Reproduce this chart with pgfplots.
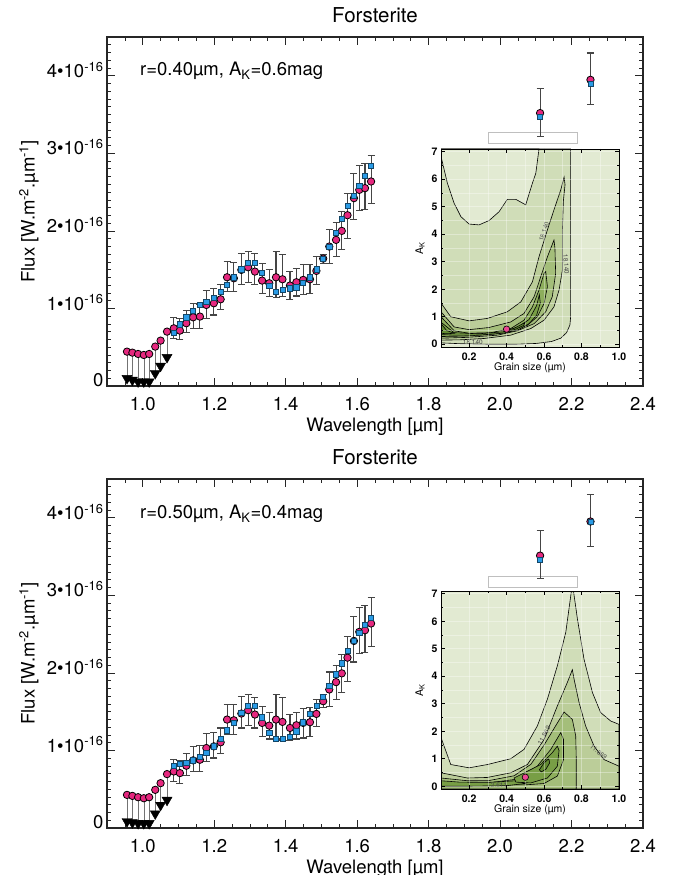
\documentclass[border=0pt]{standalone}
\usepackage{fontspec}
\setmainfont{TeX Gyre Heros}
\usepackage{pgfplots}
\usepackage{pgfplotstable}
\pgfplotsset{compat=1.18}

\definecolor{mag}{HTML}{E6287F}
\definecolor{sky}{HTML}{2A9BE6}
\definecolor{ebar}{HTML}{454545}
\definecolor{g0}{HTML}{E2EAD2}
\definecolor{g1}{HTML}{D0DDB8}
\definecolor{g2}{HTML}{BBCD99}
\definecolor{g3}{HTML}{A4BE7A}
\definecolor{g4}{HTML}{8DAE5C}
\definecolor{g5}{HTML}{789E45}
\definecolor{g6}{HTML}{628B32}

\newcommand\bigf{\fontsize{18.5}{21}\selectfont}
\newcommand\smf{\fontsize{10.5}{12}\selectfont}
\tikzset{clabel/.style={font=\fontsize{6.5}{7}\selectfont, text=black!70, inner sep=0.5pt}}

% spectrum, r=0.40um fit: lambda, magenta, blue, bar top, bar bottom
\pgfplotstableread{
l     m     b     t     lo
1.087 0.744 0.688 0.886 0.615
1.104 0.714 0.796 0.873 0.594
1.122 0.809 0.886 0.972 0.688
1.141 0.886 0.972 1.058 0.744
1.160 0.895 1.045 1.054 0.744
1.178 1.045 1.088 1.230 0.873
1.199 1.067 1.140 1.252 0.916
1.218 1.118 1.217 1.303 0.981
1.236 1.402 1.303 1.604 1.217
1.255 1.389 1.402 1.596 1.217
1.276 1.497 1.505 1.712 1.303
1.295 1.531 1.591 1.733 1.333
1.314 1.475 1.591 1.703 1.303
1.334 1.359 1.462 1.583 1.196
1.354 1.325 1.290 1.497 1.153
1.373 1.402 1.217 1.733 1.140
1.391 1.376 1.239 1.690 1.153
1.412 1.295 1.260 1.475 1.118
1.430 1.338 1.273 1.510 1.161
1.449 1.368 1.333 1.561 1.174
1.468 1.376 1.402 1.561 1.196
1.486 1.484 1.505 1.669 1.303
1.505 1.643 1.643 1.700 1.580
1.522 1.798 1.798 2.013 1.583
1.541 1.884 1.978 2.108 1.669
1.557 2.000 2.159 2.249 1.763
1.573 2.202 2.323 2.477 1.905
1.591 2.422 2.456 2.735 2.142
1.606 2.529 2.581 2.839 2.258
1.622 2.551 2.710 2.873 2.271
1.639 2.637 2.839 2.968 2.348
2.112 3.519 3.467 3.836 3.213
2.253 3.948 3.897 4.293 3.635
}\specA
\pgfplotstableread{
l     m     tri
0.956 0.443 0.099
0.971 0.430 0.077
0.987 0.413 0.056
1.003 0.400 0.056
1.018 0.413 0.056
1.035 0.508 0.163
1.050 0.585 0.258
1.068 0.701 0.370
}\lowA

% spectrum, r=0.50um fit
\pgfplotstableread{
l     m     b     t     lo
1.087 0.729 0.807 0.880 0.600
1.104 0.708 0.828 0.867 0.578
1.122 0.803 0.837 0.958 0.673
1.141 0.872 0.872 1.053 0.729
1.160 0.880 0.923 1.061 0.729
1.178 1.031 0.967 1.217 0.859
1.199 1.053 1.053 1.234 0.902
1.218 1.105 1.148 1.290 0.958
1.236 1.398 1.260 1.592 1.204
1.255 1.389 1.355 1.588 1.204
1.276 1.476 1.484 1.692 1.290
1.295 1.519 1.579 1.722 1.320
1.314 1.463 1.579 1.679 1.290
1.334 1.355 1.428 1.562 1.182
1.354 1.320 1.225 1.484 1.148
1.373 1.398 1.148 1.717 1.130
1.391 1.368 1.152 1.679 1.148
1.412 1.290 1.174 1.463 1.130
1.430 1.325 1.247 1.493 1.148
1.449 1.355 1.364 1.536 1.161
1.468 1.364 1.476 1.549 1.182
1.486 1.471 1.579 1.657 1.303
1.505 1.635 1.692 1.722 1.549
1.522 1.786 1.830 2.011 1.571
1.541 1.881 1.981 2.097 1.657
1.557 1.994 2.123 2.239 1.752
1.573 2.196 2.283 2.468 1.894
1.591 2.412 2.412 2.727 2.140
1.606 2.529 2.520 2.844 2.252
1.622 2.550 2.624 2.874 2.261
1.639 2.637 2.714 2.973 2.339
2.112 3.512 3.460 3.836 3.214
2.253 3.952 3.952 4.298 3.634
}\specB
\pgfplotstableread{
l     m     tri
0.956 0.427 0.085
0.971 0.414 0.070
0.987 0.397 0.060
1.003 0.384 0.060
1.018 0.397 0.060
1.035 0.492 0.185
1.050 0.578 0.295
1.068 0.695 0.360
}\lowB

\pgfplotsset{
  /pgf/number format/assume math mode=true,
  mainax/.style={
    scale only axis, width=536pt, height=349pt, clip=false,
    xmin=0.9, xmax=2.4, ymin=0, ymax=4.5,
    xtick={1.0,1.2,1.4,1.6,1.8,2.0,2.2,2.4},
    minor xtick={0.95,1.05,1.1,1.15,1.25,1.3,1.35,1.45,1.5,1.55,1.65,1.7,1.75,1.85,1.9,1.95,2.05,2.1,2.15,2.25,2.3,2.35},
    ytick={0,1,2,3,4},
    minor ytick={0,0.1,...,4.5},
    yticklabels={0,1•10\textsuperscript{-16},2•10\textsuperscript{-16},3•10\textsuperscript{-16},4•10\textsuperscript{-16}},
    yticklabel style={yshift=6pt},
    xticklabel style={anchor=base, yshift=-25pt, /pgf/number format/.cd, fixed, fixed zerofill, precision=1},
    tick align=inside, major tick length=8pt, minor tick length=4pt,
    tick style={black!85, line width=0.7pt},
    axis line style={black!85, line width=1.1pt},
    tick label style={font=\bigf},
    label style={font=\bigf},
    title style={font=\fontsize{20.5}{23}\selectfont, at={(axis description cs:0.5,1.023)}, anchor=base},
    title={Forsterite},
    xlabel={Wavelength [µm]},
    ylabel={Flux [W.m\textsuperscript{-2}.µm\textsuperscript{-1}]},
    xlabel style={at={(axis description cs:0.5,-0.129)}, anchor=base},
    ylabel style={at={(axis description cs:-0.1455,0.5)}, anchor=center},
  },
  inset/.style={
    scale only axis, width=178pt, height=198pt,
    xmin=0.05, xmax=1.0, ymin=-0.1, ymax=7.1,
    xtick={0.2,0.4,0.6,0.8,1.0}, ytick={0,1,2,3,4,5,6,7},
    minor x tick num=1, minor y tick num=1,
    tick align=inside, major tick length=4pt, minor tick length=2pt,
    tick style={black, line width=0.6pt},
    axis line style={black, line width=0.9pt},
    axis on top,
    grid=both, grid style={white, opacity=0.35, line width=0.6pt},
    axis background/.style={fill=g0},
    xticklabel style={font=\smf\bfseries, anchor=base, yshift=-14pt, /pgf/number format/.cd, fixed, fixed zerofill, precision=1},
    yticklabel style={font=\smf\bfseries},
    xlabel={Grain size (µm)}, ylabel={A\textsubscript{K}},
    label style={font=\smf},
    xlabel style={at={(axis description cs:0.5,-0.121)}, anchor=base},
    ylabel style={at={(axis description cs:-0.118,0.5)}, anchor=center},
    contour/.style={draw=black, line width=0.6pt},
  },
}

\newcommand\drawspec[2]{%
  \addplot[only marks, mark=none, error bars/.cd, y dir=minus, y explicit,
    error bar style={black!55, line width=0.6pt}, error mark=none]
    table[x=l, y=m, y error minus expr=\thisrow{m}-\thisrow{tri}] {#2};
  \addplot[only marks, mark=none, error bars/.cd, y dir=both, y explicit,
    error bar style={ebar, line width=1.1pt},
    error mark options={ebar, line width=1.1pt, mark size=3.5pt, rotate=90}]
    table[x=l, y=m, y error plus expr=\thisrow{t}-\thisrow{m}, y error minus expr=\thisrow{m}-\thisrow{lo}] {#1};
  \addplot[only marks, mark=triangle*, mark size=5.8pt, mark options={rotate=180, fill=black, draw=black}]
    table[x=l, y=tri] {#2};
  \addplot[only marks, mark=*, mark size=3.7pt, mark options={fill=mag, draw=black, line width=0.8pt}]
    table[x=l, y=m] {#2};
  \addplot[only marks, mark=*, mark size=3.7pt, mark options={fill=mag, draw=black, line width=0.8pt}]
    table[x=l, y=m] {#1};
  \addplot[only marks, mark=square*, mark size=2.6pt, mark options={fill=sky, draw=sky!45!black, line width=0.6pt}]
    table[x=l, y=b] {#1};
}

\begin{document}
\begin{tikzpicture}
\path[use as bounding box] (0,0) rectangle (678pt,875pt);

% ---------- top panel ----------
\begin{axis}[mainax, at={(107pt,489pt)}, anchor=south west]
  \draw[black!25, fill=white, line width=0.7pt] (axis cs:1.966,3.123) rectangle (axis cs:2.216,3.265);
  \node[anchor=base west, font=\bigf] at (axis cs:0.983,4.0) {r=0.40µm, A\textsubscript{K}=0.6mag};
  \drawspec{\specA}{\lowA}
\end{axis}

\begin{axis}[inset, at={(441pt,528pt)}, anchor=south west]
  \addplot[contour, fill=g1] coordinates {(0.05,0.05) (0.05,7.1) (0.742,7.1) (0.742,1.0) (0.738,0.7) (0.72,0.42) (0.689,0.22) (0.64,0.1) (0.56,0.03) (0.45,0.0) (0.3,0.0) (0.15,0.02)} -- cycle;
  \addplot[contour, fill=g0] coordinates {(0.05,7.1) (0.05,6.83) (0.084,5.86) (0.12,5.13) (0.156,4.64) (0.2,4.37) (0.253,4.34) (0.307,4.5) (0.36,4.82) (0.404,5.27) (0.449,5.27) (0.502,5.07) (0.538,5.86) (0.556,6.22) (0.573,7.1)} -- cycle;
  \addplot[contour, fill=g2] coordinates {(0.05,1.5) (0.102,1.0) (0.2,0.85) (0.298,0.94) (0.404,1.18) (0.476,1.54) (0.538,2.27) (0.573,3.18) (0.618,4.16) (0.653,4.89) (0.689,5.61) (0.707,6.08) (0.712,5.8) (0.703,5.2) (0.698,4.16) (0.698,2.7) (0.68,1.97) (0.653,1.36) (0.6,0.875) (0.529,0.57) (0.422,0.33) (0.28,0.21) (0.15,0.16) (0.05,0.15)} -- cycle;
  \addplot[contour, fill=g3] coordinates {(0.05,1.18) (0.12,0.63) (0.2,0.53) (0.307,0.61) (0.422,0.81) (0.493,1.12) (0.547,1.73) (0.582,2.45) (0.618,3.18) (0.653,3.79) (0.658,3.5) (0.662,2.58) (0.644,1.73) (0.609,1.18) (0.547,0.75) (0.458,0.49) (0.351,0.33) (0.191,0.25) (0.05,0.22)} -- cycle;
  \addplot[contour, fill=g4] coordinates {(0.05,1.0) (0.12,0.49) (0.2,0.40) (0.316,0.42) (0.422,0.57) (0.493,0.875) (0.538,1.36) (0.573,1.97) (0.6,2.58) (0.609,2.64) (0.618,2.09) (0.6,1.48) (0.564,1.0) (0.511,0.69) (0.44,0.49) (0.333,0.37) (0.191,0.3) (0.05,0.28)} -- cycle;
  \addplot[contour, fill=g5] coordinates {(0.05,0.8) (0.12,0.42) (0.25,0.38) (0.38,0.45) (0.46,0.62) (0.52,0.9) (0.56,1.4) (0.575,1.8) (0.58,1.5) (0.56,1.05) (0.52,0.75) (0.46,0.52) (0.38,0.40) (0.25,0.33) (0.12,0.33) (0.05,0.35)} -- cycle;
  \addplot[contour, fill=g6] coordinates {(0.40,0.50) (0.44,0.58) (0.48,0.72) (0.50,0.80) (0.49,0.68) (0.45,0.55) (0.41,0.47)} -- cycle;
  \addplot[contour, fill=g6] coordinates {(0.05,0.75) (0.08,0.5) (0.12,0.4) (0.08,0.38) (0.05,0.4)} -- cycle;
  \node[clabel, rotate=72] at (axis cs:0.600,4.10) {18.140};
  \node[clabel, rotate=-85] at (axis cs:0.718,2.90) {18.140};
  \node[clabel] at (axis cs:0.22,0.06) {18.140};
  \addplot[only marks, mark=*, mark size=3.2pt, mark options={fill=mag!85!white, draw=black, line width=0.6pt}] coordinates {(0.40,0.55)};
\end{axis}

% ---------- bottom panel ----------
\begin{axis}[mainax, at={(107pt,47pt)}, anchor=south west]
  \draw[black!25, fill=white, line width=0.7pt] (axis cs:1.966,3.107) rectangle (axis cs:2.216,3.249);
  \node[anchor=base west, font=\bigf] at (axis cs:0.983,3.99) {r=0.50µm, A\textsubscript{K}=0.4mag};
  \drawspec{\specB}{\lowB}
\end{axis}

\begin{axis}[inset, at={(441pt,86pt)}, anchor=south west]
  \addplot[contour, fill=g1] coordinates {(0.05,-0.1) (0.05,1.77) (0.102,0.79) (0.2,0.67) (0.298,0.79) (0.422,1.0) (0.493,1.34) (0.564,2.19) (0.618,3.17) (0.671,4.38) (0.716,5.6) (0.746,7.1) (0.757,7.1) (0.778,6.09) (0.813,4.63) (0.858,3.41) (0.902,2.68) (0.956,2.37) (1.0,2.25) (1.0,-0.1)} -- cycle;
  \addplot[contour, fill=g2] coordinates {(0.05,-0.1) (0.05,0.49) (0.191,0.30) (0.298,0.32) (0.422,0.49) (0.511,0.79) (0.6,1.7) (0.671,2.92) (0.724,3.77) (0.751,4.24) (0.76,3.9) (0.787,3.04) (0.822,2.19) (0.867,1.46) (0.92,0.97) (1.0,0.73) (1.0,-0.1)} -- cycle;
  \addplot[contour, fill=g3] coordinates {(0.05,-0.1) (0.05,0.3) (0.191,0.2) (0.3,0.2) (0.44,0.38) (0.53,0.8) (0.6,1.5) (0.671,2.3) (0.707,2.7) (0.751,2.43) (0.769,1.83) (0.772,0.97) (0.772,0.12) (0.772,-0.1)} -- cycle;
  \addplot[contour, fill=g4] coordinates {(0.3,0.12) (0.458,0.26) (0.564,0.73) (0.636,1.34) (0.689,1.95) (0.704,1.7) (0.704,0.97) (0.671,0.37) (0.6,0.1) (0.5,0.05) (0.35,0.05)} -- cycle;
  \addplot[contour, fill=g5] coordinates {(0.05,0.0) (0.05,0.2) (0.15,0.15) (0.3,0.14) (0.45,0.2) (0.5,0.1) (0.4,0.02) (0.2,0.0)} -- cycle;
  \addplot[contour, fill=g5] coordinates {(0.44,0.3) (0.582,0.79) (0.644,1.22) (0.671,1.46) (0.68,1.3) (0.671,0.73) (0.618,0.30) (0.529,0.12) (0.45,0.15)} -- cycle;
  \addplot[contour, fill=g6] coordinates {(0.575,0.6) (0.6,0.85) (0.625,1.0) (0.63,0.85) (0.61,0.62) (0.585,0.52)} -- cycle;
  \node[clabel, rotate=62] at (axis cs:0.60,1.85) {11.869};
  \node[clabel, rotate=-40] at (axis cs:0.89,1.25) {11.869};
  \node[clabel] at (axis cs:0.36,0.02) {2.611};
  \addplot[only marks, mark=*, mark size=3.2pt, mark options={fill=mag!85!white, draw=black, line width=0.6pt}] coordinates {(0.50,0.33)};
\end{axis}
\end{tikzpicture}
\end{document}
